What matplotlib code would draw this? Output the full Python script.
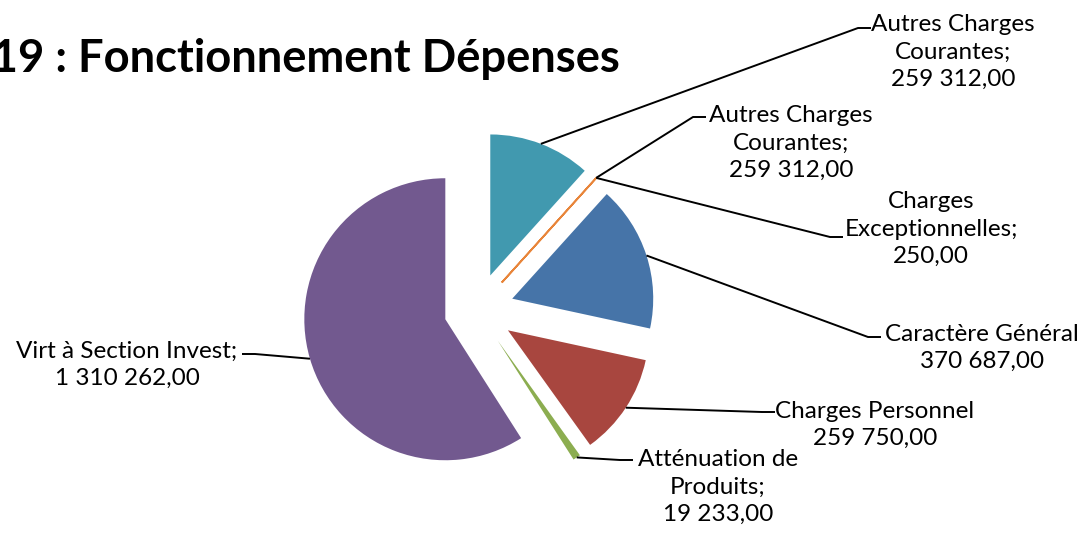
import numpy as np
import matplotlib
matplotlib.use("Agg")
from matplotlib import pyplot as plt

# data (clockwise from 12 o'clock)
categories = ["Autres Charges Courantes", "Autres Charges Courantes",
              "Charges Exceptionnelles", "Caractère Général",
              "Charges Personnel", "Atténuation de Produits",
              "Virt à Section Invest"]
values = [259312.00, 0.0, 250.00, 370687.00, 259750.00, 19233.00, 1310262.00]
shown = [259312.00, 259312.00, 250.00, 370687.00, 259750.00, 19233.00, 1310262.00]
label_lines = [["Autres Charges", "Courantes;"],
               ["Autres Charges", "Courantes;"],
               ["Charges", "Exceptionnelles;"],
               ["Caractère Général"],
               ["Charges Personnel"],
               ["Atténuation de", "Produits;"],
               ["Virt à Section Invest;"]]
colors = ["#4199AF", "#4199AF", "#E8853A", "#4674A8", "#A8463F", "#8CAD50", "#72598F"]
title = "2019 : Fonctionnement Dépenses"

W, H = 1084, 534
plt.rcParams["font.family"] = ["Lato", "DejaVu Sans"]

fig = plt.figure(figsize=(W / 100, H / 100), dpi=100)
ax = fig.add_axes([0, 0, 1, 1])


def fy(y):
    # picture y (top down) -> data y
    return H - y


R = 141
explode = [37, 37, 37, 37, 37, 37, 33]
wedges, _ = ax.pie(values, colors=colors, startangle=90, counterclock=False,
                   radius=R, center=(477, fy(310)), explode=explode,
                   wedgeprops=dict(linewidth=0))
wedges[2].set_edgecolor(colors[2])
wedges[2].set_linewidth(1.3)

ax.set_xlim(0, W)
ax.set_ylim(0, H)
ax.set_aspect("auto")
ax.axis("off")


def fmt(v):
    s = f"{v:,.2f}"
    return s.replace(",", " ").replace(".", ",")


# elbow of leader (picture coords), side of label, text centre
elbows = [(858, 28, 1), (693, 117, 1), (830, 237, 1), (868, 337, 1),
          (762, 412, 1), (620, 460, 1), (255, 354, -1)]
text_pos = [(953, 52), (791, 143), (931, 229), (982, 348),
            (875, 425), (718, 487), (127, 365)]

for w, lines, v, (ex, ey, side), (tx, ty) in zip(wedges, label_lines, shown,
                                                  elbows, text_pos):
    th = np.deg2rad((w.theta1 + w.theta2) / 2)
    cx, cy = w.center
    x0, y0 = cx + R * np.cos(th), cy + R * np.sin(th)
    ax.plot([x0, ex, ex + side * 13], [y0, fy(ey), fy(ey)],
            color="black", lw=1.4, solid_capstyle="butt")
    ax.text(tx, fy(ty), "\n".join(lines + [fmt(v)]), ha="center", va="center",
            multialignment="center", fontsize=17.5, linespacing=1.36,
            color="black")

ax.text(620, fy(72), title, ha="right", va="baseline", fontsize=32.7,
        fontweight="bold", color="black")

fig.savefig("out.png", dpi=100)
